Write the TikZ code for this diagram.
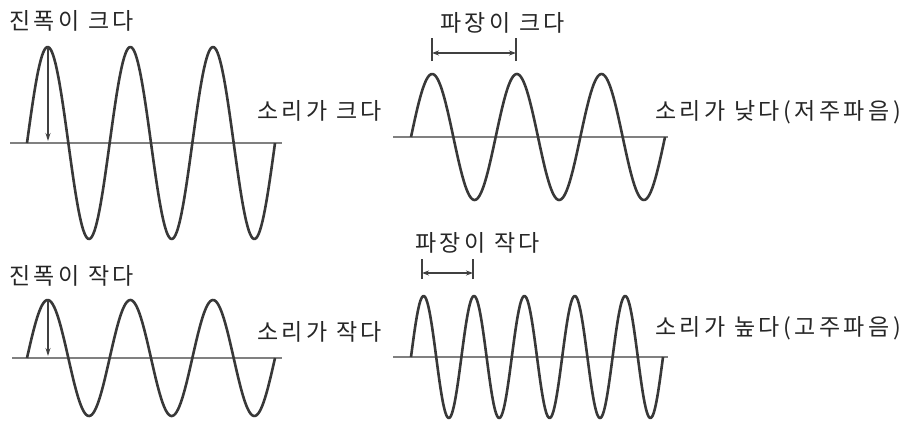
\documentclass[tikz,border=0pt]{standalone}
\usepackage{fontspec}
\newfontfamily\krfont[LetterSpace=15]{Noto Sans CJK KR}
\usetikzlibrary{arrows.meta}

\begin{document}
\begin{tikzpicture}[x=1pt, y=-1pt,
    wave/.style={draw=black!78, line width=2.6pt, line join=round},
    base/.style={draw=black!50, line width=2.3pt},
    arr/.style={-{Stealth[length=8pt, width=5pt]}, line width=1.1pt, black!75},
    dim/.style={{Stealth[length=7pt, width=5pt]}-{Stealth[length=7pt, width=5pt]}, line width=1.3pt, black!75},
    tickline/.style={line width=1.2pt, black!75},
    lbl/.style={font=\krfont\fontsize{23}{23}\selectfont, inner sep=0pt, anchor=west, text=black!85}
]
\useasboundingbox (0,0) rectangle (909,421);

% baselines
\draw[base] (10,143) -- (282,143);
\draw[base] (393,137) -- (668,137);
\draw[base] (12,358) -- (282,358);
\draw[base] (393,357) -- (668,357);

% waves (start x, period, baseline, amplitude)
\draw[wave] plot[domain=27:275, samples=200] (\x, {143-96*sin((\x-27)/82.67*360)});
\draw[wave] plot[domain=411:665, samples=200] (\x, {137-63*sin((\x-411)/84.67*360)});
\draw[wave] plot[domain=27:275, samples=200] (\x, {358-58*sin((\x-27)/82.67*360)});
\draw[wave] plot[domain=411:663, samples=300] (\x, {357-61*sin((\x-411)/50.4*360)});

% amplitude arrows
\coordinate (pkA) at (48,47);
\coordinate (axA) at (48,141);
\coordinate (pkB) at (48,300);
\coordinate (axB) at (48,356);
\draw[arr] (pkA) -- (axA);
\draw[arr] (pkB) -- (axB);

% wavelength markers
\coordinate (wlA1) at (432,53);
\coordinate (wlA2) at (516,53);
\coordinate (wlB1) at (422,273);
\coordinate (wlB2) at (473,273);
\draw[tickline] ([yshift=-8]wlA1) -- ([yshift=15]wlA1);
\draw[tickline] ([yshift=-8]wlA2) -- ([yshift=15]wlA2);
\draw[dim] (wlA1) -- (wlA2);
\draw[tickline] ([yshift=-6]wlB1) -- ([yshift=14]wlB1);
\draw[tickline] ([yshift=-6]wlB2) -- ([yshift=14]wlB2);
\draw[dim] (wlB1) -- (wlB2);

% labels
\node[lbl] (ampbig) at (9,21) {진폭이 크다};
\node[lbl] (ampsmall) at (9,276) {진폭이 작다};
\node[lbl] (loud) at (257,111) {소리가 크다};
\node[lbl] (soft) at (257,332) {소리가 작다};
\node[lbl] (wlbig) at (440,23) {파장이 크다};
\node[lbl] (wlsmall) at (415,243) {파장이 작다};
\node[lbl] (low) at (655,112) {소리가 낮다(저주파음)};
\node[lbl] (high) at (655,328) {소리가 높다(고주파음)};
\end{tikzpicture}
\end{document}
